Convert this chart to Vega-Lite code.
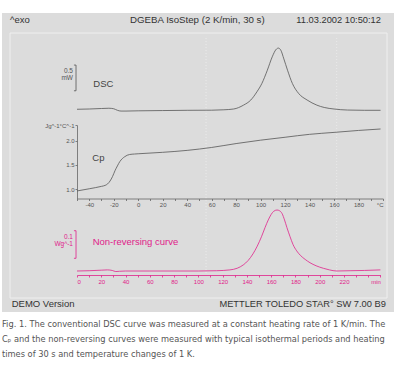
{
  "$schema": "https://vega.github.io/schema/vega-lite/v6.json",
  "width": 392,
  "height": 299,
  "autosize": {"type": "none"},
  "padding": {"left": 2, "top": 13, "right": 12, "bottom": 54},
  "background": "white",
  "config": {"view": {"fill": "#dcdcdc", "stroke": null}, "font": "Liberation Sans"},
  "title": {
    "text": [
      "Fig. 1. The conventional DSC curve was measured at a constant heating rate of 1 K/min. The",
      "Cₚ and the non-reversing curves were measured with typical isothermal periods and heating",
      "times of 30 s and temperature changes of 1 K."
    ],
    "orient": "bottom",
    "anchor": "start",
    "frame": "group",
    "offset": 8,
    "baseline": "top",
    "font": "'DejaVu Sans Condensed', 'Liberation Sans Narrow', 'Liberation Sans', sans-serif",
    "fontSize": 9.2,
    "fontWeight": "normal",
    "color": "#555555",
    "lineHeight": 15
  },
  "datasets": {
    "frame": [
      {"kind": "box", "fx": 0, "fx2": 1, "fy": 0, "fy2": 1},
      {"kind": "vline", "fx": 0.52, "fy": 0.094, "fy2": 0.989},
      {"kind": "vline", "fx": 0.8666, "fy": 0.094, "fy2": 0.989},
      {"kind": "left", "fx": 0, "fy": 1.049, "label": "^exo"},
      {"kind": "center", "fx": 0.497, "fy": 1.049, "label": "DGEBA IsoStep (2 K/min, 30 s)"},
      {"kind": "right", "fx": 0.984, "fy": 1.049, "label": "11.03.2002 10:50:12"},
      {"kind": "left", "fx": 0.0045, "fy": -0.0238, "label": "DEMO Version"},
      {"kind": "right", "fx": 0.997, "fy": -0.0238, "label": "METTLER TOLEDO STAR° SW 7.00 B9"}
    ],
    "dsc": [
      {"s": "curve", "T": -50, "mW": 0.02}, {"s": "curve", "T": -40, "mW": 0.025}, {"s": "curve", "T": -30, "mW": 0.035},
      {"s": "curve", "T": -24, "mW": 0.04}, {"s": "curve", "T": -20, "mW": 0.03}, {"s": "curve", "T": -17, "mW": 0.0},
      {"s": "curve", "T": -14, "mW": -0.015}, {"s": "curve", "T": -10, "mW": -0.015}, {"s": "curve", "T": 0, "mW": -0.01},
      {"s": "curve", "T": 20, "mW": -0.005}, {"s": "curve", "T": 40, "mW": 0}, {"s": "curve", "T": 60, "mW": 0.002},
      {"s": "curve", "T": 70, "mW": 0.01}, {"s": "curve", "T": 78, "mW": 0.025}, {"s": "curve", "T": 86, "mW": 0.1},
      {"s": "curve", "T": 92, "mW": 0.2}, {"s": "curve", "T": 97, "mW": 0.36}, {"s": "curve", "T": 101, "mW": 0.52},
      {"s": "curve", "T": 105.5, "mW": 0.78}, {"s": "curve", "T": 109.5, "mW": 1.04}, {"s": "curve", "T": 112.5, "mW": 1.18},
      {"s": "curve", "T": 114.5, "mW": 1.21}, {"s": "curve", "T": 116.5, "mW": 1.17}, {"s": "curve", "T": 119, "mW": 1.0},
      {"s": "curve", "T": 122, "mW": 0.78}, {"s": "curve", "T": 126, "mW": 0.52}, {"s": "curve", "T": 131, "mW": 0.33},
      {"s": "curve", "T": 138, "mW": 0.2}, {"s": "curve", "T": 146, "mW": 0.1}, {"s": "curve", "T": 152, "mW": 0.055},
      {"s": "curve", "T": 160, "mW": 0.025}, {"s": "curve", "T": 171, "mW": 0.005}, {"s": "curve", "T": 185, "mW": 0},
      {"s": "curve", "T": 198, "mW": 0},
      {"s": "bar", "T": -50.8, "mW": 0.38, "mW2": 0.88},
      {"s": "tick", "T": -52.5, "T2": -50.8, "mW": 0.38},
      {"s": "tick", "T": -52.5, "T2": -50.8, "mW": 0.88},
      {"s": "unit", "T": -53.3, "mW": 0.77, "label": "0.5"},
      {"s": "unit", "T": -53.3, "mW": 0.62, "label": "mW"},
      {"s": "name", "T": -36.7, "mW": 0.51, "label": "DSC"}
    ],
    "cp": [
      {"s": "curve", "T": -50, "Cp": 0.965}, {"s": "curve", "T": -40, "Cp": 1.01}, {"s": "curve", "T": -30, "Cp": 1.06},
      {"s": "curve", "T": -27, "Cp": 1.08}, {"s": "curve", "T": -25, "Cp": 1.11}, {"s": "curve", "T": -23, "Cp": 1.17},
      {"s": "curve", "T": -21, "Cp": 1.26}, {"s": "curve", "T": -19, "Cp": 1.38}, {"s": "curve", "T": -17, "Cp": 1.48},
      {"s": "curve", "T": -15, "Cp": 1.57}, {"s": "curve", "T": -13, "Cp": 1.63}, {"s": "curve", "T": -11, "Cp": 1.67},
      {"s": "curve", "T": -9, "Cp": 1.70}, {"s": "curve", "T": -7, "Cp": 1.715}, {"s": "curve", "T": -3, "Cp": 1.725},
      {"s": "curve", "T": 0, "Cp": 1.73}, {"s": "curve", "T": 20, "Cp": 1.76}, {"s": "curve", "T": 40, "Cp": 1.80},
      {"s": "curve", "T": 60, "Cp": 1.86}, {"s": "curve", "T": 80, "Cp": 1.94}, {"s": "curve", "T": 100, "Cp": 2.01},
      {"s": "curve", "T": 120, "Cp": 2.07}, {"s": "curve", "T": 140, "Cp": 2.13}, {"s": "curve", "T": 160, "Cp": 2.17},
      {"s": "curve", "T": 180, "Cp": 2.21}, {"s": "curve", "T": 198, "Cp": 2.24},
      {"s": "name", "T": -37.5, "Cp": 1.64, "label": "Cp"}
    ],
    "nr": [
      {"s": "curve", "t": 0, "W": 0}, {"s": "curve", "t": 10, "W": 0.001}, {"s": "curve", "t": 20, "W": 0.003},
      {"s": "curve", "t": 25, "W": 0.004}, {"s": "curve", "t": 29, "W": 0.002}, {"s": "curve", "t": 32, "W": -0.002},
      {"s": "curve", "t": 35, "W": -0.001}, {"s": "curve", "t": 40, "W": 0}, {"s": "curve", "t": 60, "W": 0},
      {"s": "curve", "t": 80, "W": 0}, {"s": "curve", "t": 100, "W": 0}, {"s": "curve", "t": 115, "W": 0.001},
      {"s": "curve", "t": 126, "W": 0.004}, {"s": "curve", "t": 132, "W": 0.01}, {"s": "curve", "t": 137, "W": 0.022},
      {"s": "curve", "t": 141, "W": 0.038}, {"s": "curve", "t": 145, "W": 0.062}, {"s": "curve", "t": 148.5, "W": 0.09},
      {"s": "curve", "t": 152, "W": 0.124}, {"s": "curve", "t": 155, "W": 0.158}, {"s": "curve", "t": 157.6, "W": 0.185},
      {"s": "curve", "t": 160, "W": 0.205}, {"s": "curve", "t": 162, "W": 0.216}, {"s": "curve", "t": 164.8, "W": 0.221},
      {"s": "curve", "t": 167, "W": 0.218}, {"s": "curve", "t": 169, "W": 0.208}, {"s": "curve", "t": 171, "W": 0.185},
      {"s": "curve", "t": 173, "W": 0.157}, {"s": "curve", "t": 175.5, "W": 0.125}, {"s": "curve", "t": 178, "W": 0.096},
      {"s": "curve", "t": 181, "W": 0.073}, {"s": "curve", "t": 184, "W": 0.057}, {"s": "curve", "t": 188, "W": 0.042},
      {"s": "curve", "t": 192, "W": 0.030}, {"s": "curve", "t": 197, "W": 0.019}, {"s": "curve", "t": 203, "W": 0.0098},
      {"s": "curve", "t": 208, "W": 0.004}, {"s": "curve", "t": 214, "W": 0}, {"s": "curve", "t": 225, "W": 0.001},
      {"s": "curve", "t": 237, "W": 0.002}, {"s": "curve", "t": 250, "W": 0.004},
      {"s": "bar", "t": -0.8, "W": 0.046, "W2": 0.146},
      {"s": "tick", "t": -2.5, "t2": -0.8, "W": 0.046},
      {"s": "tick", "t": -2.5, "t2": -0.8, "W": 0.146},
      {"s": "unit", "t": -3.3, "W": 0.124, "label": "0.1"},
      {"s": "unit", "t": -3.3, "W": 0.098, "label": "Wg^-1"},
      {"s": "name", "t": 12.9, "W": 0.106, "label": "Non-reversing curve"}
    ]
  },
  "resolve": {"scale": {"x": "independent", "y": "independent"}},
  "layer": [
    {
      "data": {"name": "frame"},
      "transform": [{"filter": "datum.kind == 'box'"}],
      "mark": {"type": "rect", "fillOpacity": 0, "stroke": "#efefef", "strokeWidth": 1},
      "encoding": {
        "x": {"field": "fx", "type": "quantitative", "scale": {"domain": [0, 1], "range": [8, 385], "nice": false, "zero": false}, "axis": null},
        "x2": {"field": "fx2"},
        "y": {"field": "fy", "type": "quantitative", "scale": {"domain": [0, 1], "range": [285, 20], "nice": false, "zero": false}, "axis": null},
        "y2": {"field": "fy2"}
      }
    },
    {
      "data": {"name": "frame"},
      "transform": [{"filter": "datum.kind == 'vline'"}],
      "mark": {"type": "rule", "color": "#f0f0f0", "strokeDash": [1, 2], "strokeWidth": 0.8},
      "encoding": {
        "x": {"field": "fx", "type": "quantitative", "scale": {"domain": [0, 1], "range": [8, 385], "nice": false, "zero": false}, "axis": null},
        "y": {"field": "fy", "type": "quantitative", "scale": {"domain": [0, 1], "range": [285, 20], "nice": false, "zero": false}, "axis": null},
        "y2": {"field": "fy2"}
      }
    },
    {
      "data": {"name": "frame"},
      "transform": [{"filter": "datum.kind == 'left'"}],
      "mark": {"type": "text", "align": "left", "baseline": "middle", "fontSize": 9.5, "color": "#333333"},
      "encoding": {
        "x": {"field": "fx", "type": "quantitative", "scale": {"domain": [0, 1], "range": [8, 385], "nice": false, "zero": false}, "axis": null},
        "y": {"field": "fy", "type": "quantitative", "scale": {"domain": [0, 1], "range": [285, 20], "nice": false, "zero": false}, "axis": null},
        "text": {"field": "label"}
      }
    },
    {
      "data": {"name": "frame"},
      "transform": [{"filter": "datum.kind == 'center'"}],
      "mark": {"type": "text", "align": "center", "baseline": "middle", "fontSize": 9.7, "color": "#333333"},
      "encoding": {
        "x": {"field": "fx", "type": "quantitative", "scale": {"domain": [0, 1], "range": [8, 385], "nice": false, "zero": false}, "axis": null},
        "y": {"field": "fy", "type": "quantitative", "scale": {"domain": [0, 1], "range": [285, 20], "nice": false, "zero": false}, "axis": null},
        "text": {"field": "label"}
      }
    },
    {
      "data": {"name": "frame"},
      "transform": [{"filter": "datum.kind == 'right'"}],
      "mark": {"type": "text", "align": "right", "baseline": "middle", "fontSize": 9.3, "color": "#333333"},
      "encoding": {
        "x": {"field": "fx", "type": "quantitative", "scale": {"domain": [0, 1], "range": [8, 385], "nice": false, "zero": false}, "axis": null},
        "y": {"field": "fy", "type": "quantitative", "scale": {"domain": [0, 1], "range": [285, 20], "nice": false, "zero": false}, "axis": null},
        "text": {"field": "label"}
      }
    },
    {
      "data": {"name": "dsc"},
      "transform": [{"filter": "datum.s == 'curve'"}],
      "mark": {"type": "line", "color": "#555555", "strokeWidth": 0.8, "interpolate": "monotone"},
      "encoding": {
        "x": {"field": "T", "type": "quantitative", "scale": {"domain": [-50, 200], "range": [75, 381], "nice": false, "zero": false}, "axis": null},
        "y": {"field": "mW", "type": "quantitative", "scale": {"domain": [0, 1], "range": [97.3, 45.9], "nice": false, "zero": false}, "axis": null}
      }
    },
    {
      "data": {"name": "dsc"},
      "transform": [{"filter": "datum.s == 'bar'"}],
      "mark": {"type": "rule", "color": "#555555", "strokeWidth": 0.8},
      "encoding": {
        "x": {"field": "T", "type": "quantitative", "scale": {"domain": [-50, 200], "range": [75, 381], "nice": false, "zero": false}, "axis": null},
        "y": {"field": "mW", "type": "quantitative", "scale": {"domain": [0, 1], "range": [97.3, 45.9], "nice": false, "zero": false}, "axis": null},
        "y2": {"field": "mW2"}
      }
    },
    {
      "data": {"name": "dsc"},
      "transform": [{"filter": "datum.s == 'tick'"}],
      "mark": {"type": "rule", "color": "#555555", "strokeWidth": 0.8},
      "encoding": {
        "x": {"field": "T", "type": "quantitative", "scale": {"domain": [-50, 200], "range": [75, 381], "nice": false, "zero": false}, "axis": null},
        "x2": {"field": "T2"},
        "y": {"field": "mW", "type": "quantitative", "scale": {"domain": [0, 1], "range": [97.3, 45.9], "nice": false, "zero": false}, "axis": null}
      }
    },
    {
      "data": {"name": "dsc"},
      "transform": [{"filter": "datum.s == 'unit'"}],
      "mark": {"type": "text", "align": "right", "baseline": "middle", "fontSize": 6.5, "color": "#555555"},
      "encoding": {
        "x": {"field": "T", "type": "quantitative", "scale": {"domain": [-50, 200], "range": [75, 381], "nice": false, "zero": false}, "axis": null},
        "y": {"field": "mW", "type": "quantitative", "scale": {"domain": [0, 1], "range": [97.3, 45.9], "nice": false, "zero": false}, "axis": null},
        "text": {"field": "label"}
      }
    },
    {
      "data": {"name": "dsc"},
      "transform": [{"filter": "datum.s == 'name'"}],
      "mark": {"type": "text", "align": "left", "baseline": "middle", "fontSize": 9.5, "color": "#444444"},
      "encoding": {
        "x": {"field": "T", "type": "quantitative", "scale": {"domain": [-50, 200], "range": [75, 381], "nice": false, "zero": false}, "axis": null},
        "y": {"field": "mW", "type": "quantitative", "scale": {"domain": [0, 1], "range": [97.3, 45.9], "nice": false, "zero": false}, "axis": null},
        "text": {"field": "label"}
      }
    },
    {
      "data": {"name": "cp"},
      "transform": [{"filter": "datum.s == 'curve'"}],
      "mark": {"type": "line", "color": "#555555", "strokeWidth": 0.8, "interpolate": "monotone"},
      "encoding": {
        "x": {"field": "T", "type": "quantitative",
          "scale": {"domain": [-50, 200], "range": [75, 381], "nice": false, "zero": false},
          "axis": {"orient": "bottom", "offset": -113.5, "title": null, "grid": false,
            "values": [-50,-40,-30,-20,-10,0,10,20,30,40,50,60,70,80,90,100,110,120,130,140,150,160,170,180,190,200],
            "labelExpr": "datum.value == 200 ? '°C' : (datum.value % 20 == 0 ? toString(datum.value) : '')",
            "labelFlush": true, "labelOverlap": false, "labelFontSize": 6, "labelColor": "#555555", "labelPadding": 1,
            "tickSize": 2, "tickColor": "#666666", "tickWidth": 0.8, "domainColor": "#666666", "domainWidth": 0.8}},
        "y": {"field": "Cp", "type": "quantitative",
          "scale": {"domain": [0.81, 2.32], "range": [185.5, 112.1], "nice": false, "zero": false},
          "axis": {"orient": "left", "offset": -75, "title": null, "grid": false,
            "values": [1, 1.5, 2, 2.32],
            "labelExpr": "datum.value > 2.2 ? 'Jg^-1°C^-1' : format(datum.value, '.1f')",
            "labelOverlap": false, "labelFontSize": 6, "labelColor": "#555555", "labelPadding": 1,
            "tickSize": 2, "tickColor": "#666666", "tickWidth": 0.8, "domainColor": "#666666", "domainWidth": 0.8}}
      }
    },
    {
      "data": {"name": "cp"},
      "transform": [{"filter": "datum.s == 'name'"}],
      "mark": {"type": "text", "align": "left", "baseline": "middle", "fontSize": 9.5, "color": "#444444"},
      "encoding": {
        "x": {"field": "T", "type": "quantitative", "scale": {"domain": [-50, 200], "range": [75, 381], "nice": false, "zero": false}, "axis": null},
        "y": {"field": "Cp", "type": "quantitative", "scale": {"domain": [0.81, 2.32], "range": [185.5, 112.1], "nice": false, "zero": false}, "axis": null},
        "text": {"field": "label"}
      }
    },
    {
      "data": {"name": "nr"},
      "transform": [{"filter": "datum.s == 'curve'"}],
      "mark": {"type": "line", "color": "#e0218a", "strokeWidth": 0.8, "interpolate": "monotone"},
      "encoding": {
        "x": {"field": "t", "type": "quantitative",
          "scale": {"domain": [0, 250], "range": [75, 378.4], "nice": false, "zero": false},
          "axis": {"orient": "bottom", "offset": -37, "title": null, "grid": false,
            "values": [0,10,20,30,40,50,60,70,80,90,100,110,120,130,140,150,160,170,180,190,200,210,220,230,240,250],
            "labelExpr": "datum.value == 250 ? 'min' : ((datum.value % 20 == 0 && datum.value <= 220) ? toString(datum.value) : '')",
            "labelFlush": true, "labelOverlap": false, "labelFontSize": 6, "labelColor": "#e0218a", "labelPadding": 1,
            "tickSize": 2, "tickColor": "#e0218a", "tickWidth": 0.8, "domainColor": "#e0218a", "domainWidth": 0.8}},
        "y": {"field": "W", "type": "quantitative", "scale": {"domain": [0, 0.1], "range": [258, 230.4], "nice": false, "zero": false}, "axis": null}
      }
    },
    {
      "data": {"name": "nr"},
      "transform": [{"filter": "datum.s == 'bar'"}],
      "mark": {"type": "rule", "color": "#e0218a", "strokeWidth": 0.8},
      "encoding": {
        "x": {"field": "t", "type": "quantitative", "scale": {"domain": [0, 250], "range": [75, 378.4], "nice": false, "zero": false}, "axis": null},
        "y": {"field": "W", "type": "quantitative", "scale": {"domain": [0, 0.1], "range": [258, 230.4], "nice": false, "zero": false}, "axis": null},
        "y2": {"field": "W2"}
      }
    },
    {
      "data": {"name": "nr"},
      "transform": [{"filter": "datum.s == 'tick'"}],
      "mark": {"type": "rule", "color": "#e0218a", "strokeWidth": 0.8},
      "encoding": {
        "x": {"field": "t", "type": "quantitative", "scale": {"domain": [0, 250], "range": [75, 378.4], "nice": false, "zero": false}, "axis": null},
        "x2": {"field": "t2"},
        "y": {"field": "W", "type": "quantitative", "scale": {"domain": [0, 0.1], "range": [258, 230.4], "nice": false, "zero": false}, "axis": null}
      }
    },
    {
      "data": {"name": "nr"},
      "transform": [{"filter": "datum.s == 'unit'"}],
      "mark": {"type": "text", "align": "right", "baseline": "middle", "fontSize": 6.5, "color": "#e0218a"},
      "encoding": {
        "x": {"field": "t", "type": "quantitative", "scale": {"domain": [0, 250], "range": [75, 378.4], "nice": false, "zero": false}, "axis": null},
        "y": {"field": "W", "type": "quantitative", "scale": {"domain": [0, 0.1], "range": [258, 230.4], "nice": false, "zero": false}, "axis": null},
        "text": {"field": "label"}
      }
    },
    {
      "data": {"name": "nr"},
      "transform": [{"filter": "datum.s == 'name'"}],
      "mark": {"type": "text", "align": "left", "baseline": "middle", "fontSize": 9.5, "color": "#e0218a"},
      "encoding": {
        "x": {"field": "t", "type": "quantitative", "scale": {"domain": [0, 250], "range": [75, 378.4], "nice": false, "zero": false}, "axis": null},
        "y": {"field": "W", "type": "quantitative", "scale": {"domain": [0, 0.1], "range": [258, 230.4], "nice": false, "zero": false}, "axis": null},
        "text": {"field": "label"}
      }
    }
  ]
}
